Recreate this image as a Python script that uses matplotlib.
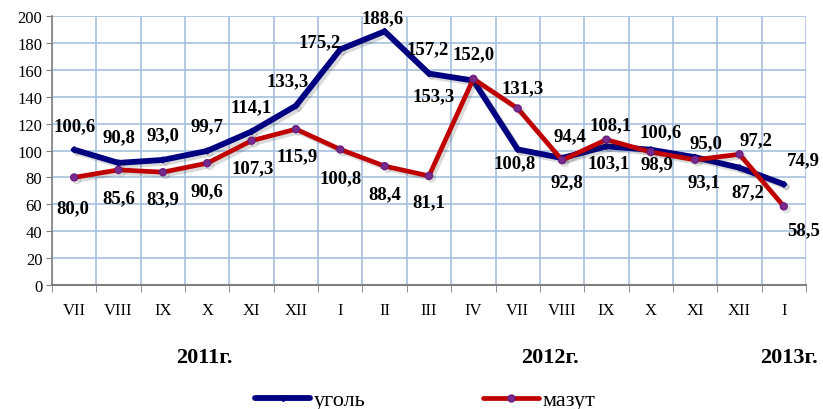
import matplotlib
matplotlib.use("Agg")
import matplotlib.pyplot as plt
import matplotlib.patheffects as pe
import numpy as np

months = ["VII", "VIII", "IX", "X", "XI", "XII", "I", "II", "III", "IV",
          "VII", "VIII", "IX", "X", "XI", "XII", "I"]
coal = [100.6, 90.8, 93.0, 99.7, 114.1, 133.3, 175.2, 188.6, 157.2, 152.0,
        100.8, 94.4, 103.1, 100.6, 95.0, 87.2, 74.9]
fuel_oil = [80.0, 85.6, 83.9, 90.6, 107.3, 115.9, 100.8, 88.4, 81.1, 153.3,
            131.3, 92.8, 108.1, 98.9, 93.1, 97.2, 58.5]
years = ["2011г.", "2012г.", "2013г."]

# label offsets in pixels (dx, dy), dy positive = up
coal_off = [(0, 24), (0, 26), (0, 25), (0, 25), (0, 25), (-8, 25), (-21, 8),
            (-2, 14), (-1, 25), (0, 27), (-3, -13), (8, 22), (2, -16),
            (10, 18), (11, 15), (8, -24), (20, 25)]
oil_off = [(-1, -30), (0, -28), (0, -27), (0, -28), (1, -27), (1, -27),
           (0, -28), (0, -28), (0, -26), (-40, -17), (5, 21), (5, -22),
           (4, 15), (6, -12), (9, -22), (16, 15), (20, -23)]

plt.rcParams["font.family"] = ["Liberation Serif", "DejaVu Serif"]

fig = plt.figure(figsize=(8.23, 4.10), dpi=100)
ax = fig.add_axes([0.0632, 0.3024, 0.9161, 0.6561])

x = np.arange(len(months))
shadow = [pe.SimpleLineShadow(offset=(2, -2), alpha=0.18, shadow_color="#333333"),
          pe.Normal()]

ax.plot(x, coal, color="#000080", lw=4.2, solid_capstyle="round",
        solid_joinstyle="round", marker="D", ms=3, path_effects=shadow, zorder=3)
ax.plot(x, fuel_oil, color="#c00000", lw=3.4, solid_capstyle="round",
        solid_joinstyle="round", marker="o", ms=5, mfc="#7a2a8c", mec="#6a1f80",
        mew=1, path_effects=shadow, zorder=4)
# legend handles without shadow
ax.plot([], [], color="#000080", lw=4.2, solid_capstyle="round",
        marker="D", ms=3, label="уголь")
ax.plot([], [], color="#c00000", lw=3.4, solid_capstyle="round",
        marker="o", ms=5, mfc="#7a2a8c", mec="#6a1f80", mew=1, label="мазут")

for i, v in enumerate(coal):
    ax.annotate(f"{v:.1f}".replace(".", ","), (x[i], v), xytext=coal_off[i],
                textcoords="offset pixels", ha="center", va="center",
                fontsize=13.5, fontweight="bold", zorder=5)
for i, v in enumerate(fuel_oil):
    ax.annotate(f"{v:.1f}".replace(".", ","), (x[i], v), xytext=oil_off[i],
                textcoords="offset pixels", ha="center", va="center",
                fontsize=13.5, fontweight="bold", zorder=5)

ax.set_xlim(-0.5, len(months) - 0.5)
ax.set_ylim(0, 200)
ax.set_yticks(np.arange(0, 201, 20))
ax.set_xticks(x)
ax.set_xticklabels(months, fontsize=12)
ax.set_xticks(np.arange(-0.5, len(months), 1), minor=True)
ax.tick_params(axis="x", which="major", length=0, pad=12)
ax.tick_params(axis="x", which="minor", length=5, color="#7f7f7f", direction="out")
ax.tick_params(axis="y", length=4, color="#7f7f7f", labelsize=12, pad=3)

ax.grid(True, axis="y", which="major", color="#a7c0e0", lw=1.2)
ax.grid(True, axis="x", which="minor", color="#a7c0e0", lw=1.2)
ax.set_axisbelow(True)
for s in ["top", "right"]:
    ax.spines[s].set_visible(False)
ax.spines["left"].set_color("#7f7f7f")
ax.spines["bottom"].set_color("#7f7f7f")
ax.spines["left"].set_linewidth(1.2)
ax.spines["bottom"].set_linewidth(1.5)

year_x = [204 / 823, 550 / 823, 789 / 823]
for xx, t in zip(year_x, years):
    fig.text(xx, 1 - 358 / 410, t, ha="center", va="center",
             fontsize=16, fontweight="bold")

fig.legend(loc="center", bbox_to_anchor=(425 / 823, 1 - 401 / 410), ncol=2,
           frameon=False, fontsize=16, handlelength=2.5, columnspacing=5.3,
           handletextpad=0.15)

fig.savefig("out.png", dpi=100)
